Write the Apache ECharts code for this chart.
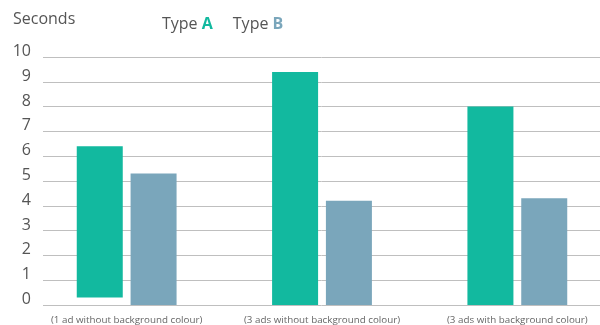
<!DOCTYPE html>
<html>
<head>
<meta charset="utf-8">
<script src="https://cdn.jsdelivr.net/npm/echarts@6/dist/echarts.min.js"></script>
<style>
  html, body { margin: 0; padding: 0; background: #fff; overflow: hidden; }
  /* the last category band runs a little past the visible right edge */
  #chart { width: 615px; height: 325px; }
</style>
</head>
<body>
<div id="chart"></div>
<script>
// Reading time per ad layout, in seconds
const categories = [
  '(1 ad without background colour)',
  '(3 ads without background colour)',
  '(3 ads with background colour)'
];
const typeA = [6.4, 9.4, 8.0];      // top of each Type A bar
const typeAStart = [0.3, 0, 0];     // where each Type A bar begins
const typeB = [5.3, 4.2, 4.3];
const yMin = 0, yMax = 10, yStep = 1;

const green = '#12b99f';
const blue = '#7aa6bb';
const textGrey = '#555555';
const font = 'Open Sans';

const chart = echarts.init(document.getElementById('chart'), null, { renderer: 'canvas' });

chart.setOption({
  animation: false,
  textStyle: { fontFamily: font },
  title: {
    text: 'Seconds',
    left: 13, top: 11, padding: 0,
    textStyle: { fontFamily: font, fontSize: 16, fontWeight: 'normal', color: textGrey }
  },
  legend: {
    data: ['A', 'B'],
    left: 157, top: 16, padding: 0,
    icon: 'none', itemWidth: 0, itemHeight: 0, itemGap: 15,
    formatter: name => `{t|Type }{${name.toLowerCase()}|${name}}`,
    textStyle: {
      fontFamily: font,
      rich: {
        t: { fontFamily: font, fontSize: 16, color: textGrey },
        a: { fontFamily: font, fontSize: 16, fontWeight: 'bold', color: green },
        b: { fontFamily: font, fontSize: 16, fontWeight: 'bold', color: blue }
      }
    }
  },
  grid: [
    // value scale with the horizontal rules
    { left: 43, right: 15, top: 57, bottom: 20 },
    // category band for the bars
    { left: 29, right: 0, top: 57, bottom: 20 }
  ],
  xAxis: [
    { type: 'category', gridIndex: 0, data: categories, show: false },
    {
      type: 'category', gridIndex: 1, data: categories, boundaryGap: true,
      axisLine: { show: false }, axisTick: { show: false },
      axisLabel: { color: '#666', fontFamily: font, fontSize: 9.8, margin: 10, interval: 0 }
    }
  ],
  yAxis: [
    {
      type: 'value', gridIndex: 0, min: yMin, max: yMax, interval: yStep,
      axisLine: { show: false }, axisTick: { show: false },
      axisLabel: {
        color: textGrey, fontFamily: font, fontSize: 16, margin: 12,
        verticalAlign: 'bottom', lineHeight: 11
      },
      splitLine: { lineStyle: { color: '#bfbfbf', width: 1 } }
    },
    {
      type: 'value', gridIndex: 1, min: yMin, max: yMax, interval: yStep, show: false
    }
  ],
  series: [
    {
      name: 'offset', type: 'bar', stack: 'a', xAxisIndex: 1, yAxisIndex: 1,
      data: typeAStart, barWidth: 46, barGap: '17%',
      itemStyle: { color: 'rgba(0,0,0,0)' }, silent: true
    },
    {
      name: 'A', type: 'bar', stack: 'a', xAxisIndex: 1, yAxisIndex: 1,
      data: typeA.map((v, i) => v - typeAStart[i]), barWidth: 46, barGap: '17%',
      itemStyle: { color: green }
    },
    {
      name: 'B', type: 'bar', xAxisIndex: 1, yAxisIndex: 1,
      data: typeB, barWidth: 46, barGap: '17%',
      itemStyle: { color: blue }
    }
  ]
});
</script>
</body>
</html>
